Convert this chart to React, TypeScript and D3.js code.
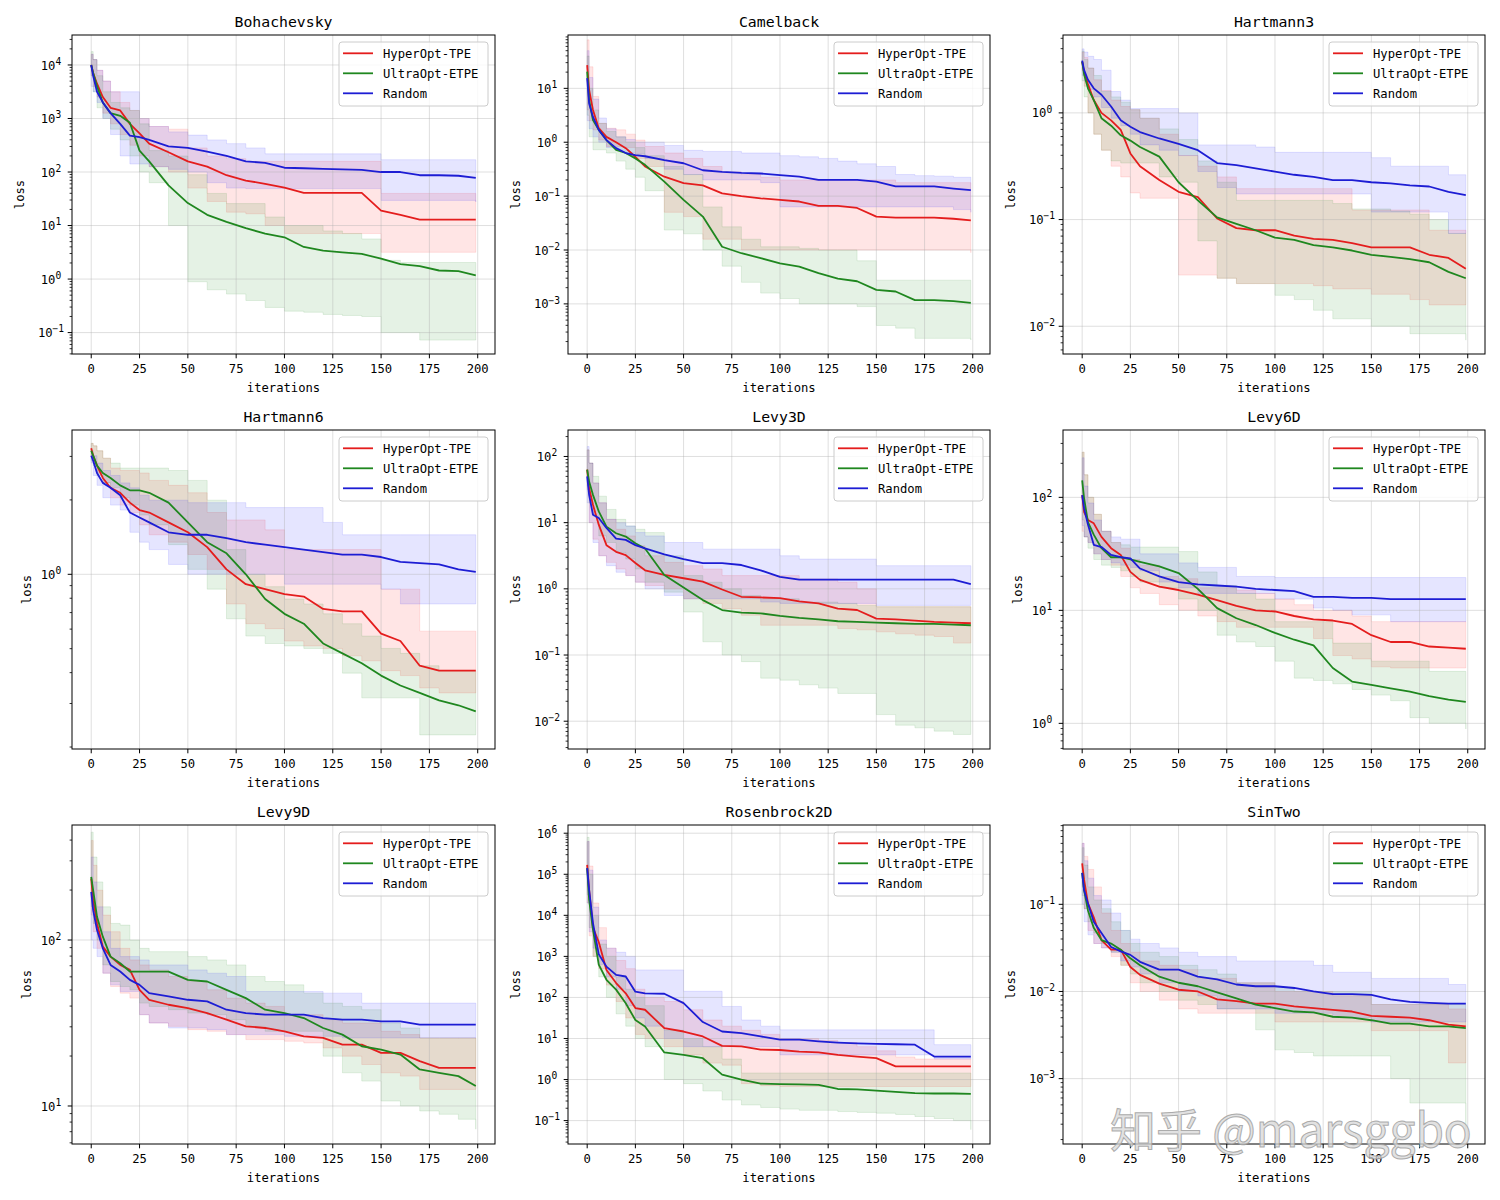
import React from "react";
import * as d3 from "d3";

const ITERS = [0, 1, 3, 6, 10, 15, 20, 25, 30, 40, 50, 60, 70, 80, 90, 100, 110, 120, 130, 140, 150, 160, 170, 180, 190, 199];
const X_TICKS = [0, 25, 50, 75, 100, 125, 150, 175, 200];
const TITLES = ["Bohachevsky", "Camelback", "Hartmann3", "Hartmann6", "Levy3D", "Levy6D", "Levy9D", "Rosenbrock2D", "SinTwo"];
const LEGEND = ["HyperOpt-TPE", "UltraOpt-ETPE", "Random"];
// y-axis limits, log10(loss)
const Y_LIMITS_LOG10 = [[-1.4, 4.56], [-3.93, 1.99], [-2.26, 0.73], [-0.707, 0.584], [-2.42, 2.4], [-0.227, 2.596], [0.771, 2.693], [-1.57, 6.2], [-3.75, -0.09]];

// ---- all values below are log10(loss): median (MED) and band (LO / HI) ----
// Bohachevsky
const BOHA_TPE_MED = [4.0, 3.85, 3.65, 3.4, 3.2, 3.15, 2.9, 2.72, 2.53, 2.37, 2.2, 2.1, 1.94, 1.84, 1.78, 1.71, 1.61, 1.61, 1.61, 1.61, 1.28, 1.2, 1.11, 1.11, 1.11, 1.11];
const BOHA_TPE_LO = [3.8, 3.6, 3.4, 3.1, 2.9, 2.7, 2.5, 2.3, 2.1, 2.0, 1.7, 1.45, 1.25, 1.22, 1.0, 0.85, 0.85, 0.85, 0.85, 0.85, 0.5, 0.5, 0.5, 0.5, 0.5, 0.5];
const BOHA_TPE_HI = [4.2, 4.1, 3.9, 3.7, 3.5, 3.3, 3.15, 3.0, 2.85, 2.8, 2.45, 2.3, 2.25, 2.2, 2.2, 2.2, 2.2, 2.2, 2.2, 2.2, 1.6, 1.6, 1.6, 1.6, 1.6, 1.6];
const BOHA_ETPE_MED = [4.0, 3.85, 3.6, 3.3, 3.1, 3.05, 2.92, 2.4, 2.2, 1.75, 1.42, 1.2, 1.07, 0.95, 0.85, 0.78, 0.6, 0.53, 0.5, 0.47, 0.38, 0.28, 0.24, 0.16, 0.15, 0.07];
const BOHA_ETPE_LO = [3.8, 3.5, 3.2, 3.0, 2.8, 2.6, 2.3, 2.0, 1.8, 1.0, -0.05, -0.2, -0.28, -0.4, -0.53, -0.6, -0.62, -0.66, -0.68, -0.7, -1.0, -1.0, -1.14, -1.14, -1.14, -1.14];
const BOHA_ETPE_HI = [4.25, 4.1, 3.8, 3.5, 3.3, 3.2, 3.15, 2.9, 2.4, 2.3, 1.95, 1.6, 1.41, 1.41, 1.16, 1.0, 1.0, 0.9, 0.85, 0.75, 0.35, 0.31, 0.31, 0.31, 0.31, 0.31];
const BOHA_RND_MED = [4.0, 3.8, 3.5, 3.3, 3.1, 2.9, 2.68, 2.65, 2.6, 2.48, 2.45, 2.38, 2.3, 2.2, 2.17, 2.08, 2.07, 2.06, 2.05, 2.04, 2.0, 2.0, 1.94, 1.94, 1.93, 1.89];
const BOHA_RND_LO = [3.6, 3.5, 3.3, 3.0, 2.7, 2.3, 2.15, 2.15, 2.1, 2.05, 2.0, 1.8, 1.7, 1.69, 1.69, 1.69, 1.69, 1.69, 1.69, 1.69, 1.47, 1.47, 1.47, 1.47, 1.47, 1.44];
const BOHA_RND_HI = [4.2, 4.1, 3.9, 3.7, 3.5, 3.5, 3.5, 3.0, 2.85, 2.75, 2.69, 2.6, 2.53, 2.45, 2.34, 2.34, 2.34, 2.34, 2.34, 2.34, 2.23, 2.23, 2.23, 2.23, 2.23, 2.23];

// Camelback
const CAMEL_TPE_MED = [1.43, 0.97, 0.6, 0.26, 0.1, 0.0, -0.11, -0.27, -0.45, -0.64, -0.76, -0.8, -0.95, -1.0, -1.04, -1.07, -1.1, -1.18, -1.18, -1.22, -1.38, -1.4, -1.4, -1.4, -1.42, -1.45];
const CAMEL_TPE_LO = [0.6, 0.4, 0.23, 0.04, -0.08, -0.08, -0.1, -0.3, -0.45, -1.3, -1.38, -1.8, -1.8, -2.0, -2.0, -2.0, -2.0, -2.0, -2.0, -2.0, -2.0, -2.0, -2.0, -2.0, -2.0, -2.05];
const CAMEL_TPE_HI = [1.9, 1.4, 0.85, 0.35, 0.26, 0.23, 0.15, 0.04, -0.08, -0.2, -0.3, -0.45, -0.55, -0.6, -0.65, -0.7, -0.7, -0.7, -0.7, -0.7, -0.7, -0.75, -0.75, -0.75, -0.75, -0.75];
const CAMEL_ETPE_MED = [1.31, 0.78, 0.41, 0.23, 0.04, -0.14, -0.2, -0.3, -0.42, -0.73, -1.07, -1.38, -1.94, -2.06, -2.15, -2.25, -2.31, -2.43, -2.53, -2.58, -2.74, -2.77, -2.93, -2.93, -2.95, -2.98];
const CAMEL_ETPE_LO = [0.5, 0.1, -0.14, -0.14, -0.2, -0.35, -0.5, -0.65, -0.9, -1.63, -1.7, -2.0, -2.3, -2.6, -2.8, -2.9, -3.0, -3.0, -3.0, -3.05, -3.4, -3.45, -3.64, -3.64, -3.64, -3.67];
const CAMEL_ETPE_HI = [1.6, 1.0, 0.6, 0.35, 0.2, 0.1, 0.0, -0.1, -0.25, -0.45, -0.6, -1.2, -1.57, -1.8, -1.94, -1.94, -1.97, -2.0, -2.0, -2.2, -2.56, -2.56, -2.56, -2.56, -2.56, -2.56];
const CAMEL_RND_MED = [1.19, 0.72, 0.47, 0.23, 0.04, -0.11, -0.2, -0.24, -0.26, -0.33, -0.39, -0.52, -0.55, -0.57, -0.58, -0.61, -0.64, -0.7, -0.7, -0.7, -0.73, -0.82, -0.82, -0.82, -0.86, -0.89];
const CAMEL_RND_LO = [0.4, 0.25, 0.1, 0.0, -0.1, -0.15, -0.2, -0.22, -0.3, -0.5, -0.6, -0.7, -0.7, -0.7, -0.75, -1.2, -1.2, -1.2, -1.2, -1.2, -1.2, -1.2, -1.2, -1.2, -1.25, -1.3];
const CAMEL_RND_HI = [1.7, 1.2, 0.8, 0.45, 0.25, 0.1, 0.05, 0.0, 0.0, -0.06, -0.15, -0.17, -0.17, -0.2, -0.2, -0.25, -0.27, -0.3, -0.35, -0.4, -0.45, -0.6, -0.62, -0.63, -0.65, -0.67];

// Hartmann3
const HART3_TPE_MED = [0.48, 0.38, 0.27, 0.12, 0.0, -0.07, -0.16, -0.38, -0.5, -0.63, -0.74, -0.79, -0.99, -1.08, -1.1, -1.1, -1.15, -1.18, -1.19, -1.22, -1.26, -1.26, -1.26, -1.33, -1.36, -1.46];
const HART3_TPE_LO = [0.4, 0.25, 0.0, -0.2, -0.35, -0.5, -0.6, -0.75, -0.8, -0.8, -1.52, -1.52, -1.55, -1.6, -1.6, -1.6, -1.6, -1.62, -1.65, -1.65, -1.7, -1.7, -1.75, -1.8, -1.8, -1.8];
const HART3_TPE_HI = [0.57, 0.52, 0.42, 0.31, 0.21, 0.12, 0.06, 0.03, -0.05, -0.2, -0.4, -0.5, -0.6, -0.71, -0.71, -0.71, -0.71, -0.71, -0.71, -0.91, -0.91, -0.91, -0.91, -1.1, -1.1, -1.13];
const HART3_ETPE_MED = [0.48, 0.36, 0.23, 0.12, -0.05, -0.12, -0.21, -0.26, -0.32, -0.41, -0.65, -0.82, -0.98, -1.04, -1.1, -1.17, -1.19, -1.24, -1.26, -1.29, -1.33, -1.35, -1.37, -1.4, -1.49, -1.55];
const HART3_ETPE_LO = [0.3, 0.15, 0.0, -0.2, -0.35, -0.45, -0.47, -0.47, -0.47, -0.6, -0.65, -1.2, -1.55, -1.6, -1.6, -1.71, -1.75, -1.85, -1.93, -1.93, -2.0, -2.0, -2.07, -2.07, -2.07, -2.13];
const HART3_ETPE_HI = [0.58, 0.5, 0.42, 0.35, 0.2, 0.15, 0.1, 0.03, -0.05, -0.15, -0.25, -0.45, -0.65, -0.82, -0.82, -0.82, -0.82, -0.82, -0.85, -0.9, -0.9, -0.92, -0.95, -1.0, -1.13, -1.13];
const HART3_RND_MED = [0.49, 0.4, 0.31, 0.23, 0.17, 0.06, -0.07, -0.13, -0.18, -0.24, -0.29, -0.35, -0.47, -0.49, -0.52, -0.55, -0.58, -0.6, -0.63, -0.63, -0.65, -0.66, -0.68, -0.69, -0.74, -0.77];
const HART3_RND_LO = [0.35, 0.3, 0.22, 0.15, 0.05, -0.05, -0.12, -0.2, -0.3, -0.35, -0.4, -0.55, -0.7, -0.76, -0.76, -0.76, -0.76, -0.76, -0.76, -0.76, -0.93, -0.93, -0.93, -0.93, -1.13, -1.13];
const HART3_RND_HI = [0.6, 0.57, 0.53, 0.5, 0.4, 0.2, 0.12, 0.04, 0.04, 0.04, 0.0, -0.3, -0.3, -0.3, -0.32, -0.37, -0.37, -0.37, -0.37, -0.37, -0.42, -0.5, -0.5, -0.5, -0.58, -0.58];

// Hartmann6
const HART6_TPE_MED = [0.51, 0.48, 0.44, 0.39, 0.35, 0.33, 0.29, 0.26, 0.25, 0.21, 0.17, 0.11, 0.02, -0.04, -0.06, -0.08, -0.09, -0.14, -0.15, -0.15, -0.24, -0.27, -0.37, -0.39, -0.39, -0.39];
const HART6_TPE_LO = [0.48, 0.45, 0.41, 0.37, 0.31, 0.28, 0.25, 0.2, 0.16, 0.13, 0.08, 0.02, -0.12, -0.2, -0.22, -0.27, -0.29, -0.3, -0.33, -0.35, -0.39, -0.41, -0.46, -0.48, -0.48, -0.48];
const HART6_TPE_HI = [0.53, 0.52, 0.5, 0.47, 0.43, 0.42, 0.42, 0.41, 0.38, 0.36, 0.33, 0.25, 0.22, 0.22, 0.18, 0.1, 0.1, 0.1, 0.1, 0.1, -0.06, -0.06, -0.23, -0.23, -0.23, -0.23];
const HART6_ETPE_MED = [0.5, 0.48, 0.44, 0.41, 0.39, 0.36, 0.34, 0.34, 0.33, 0.29, 0.21, 0.13, 0.085, 0.0, -0.1, -0.16, -0.2, -0.28, -0.32, -0.36, -0.41, -0.45, -0.48, -0.51, -0.53, -0.555];
const HART6_ETPE_LO = [0.46, 0.44, 0.4, 0.37, 0.35, 0.31, 0.28, 0.24, 0.2, 0.12, 0.02, -0.06, -0.18, -0.25, -0.28, -0.29, -0.3, -0.32, -0.4, -0.5, -0.5, -0.5, -0.65, -0.65, -0.65, -0.65];
const HART6_ETPE_HI = [0.53, 0.52, 0.5, 0.47, 0.45, 0.43, 0.43, 0.43, 0.43, 0.42, 0.38, 0.3, 0.1, 0.0, -0.05, -0.1, -0.12, -0.16, -0.2, -0.25, -0.3, -0.32, -0.37, -0.39, -0.39, -0.39];
const HART6_RND_MED = [0.48, 0.46, 0.41, 0.37, 0.35, 0.32, 0.25, 0.23, 0.21, 0.17, 0.16, 0.16, 0.146, 0.13, 0.12, 0.11, 0.1, 0.09, 0.08, 0.08, 0.07, 0.05, 0.045, 0.04, 0.02, 0.01];
const HART6_RND_LO = [0.45, 0.4, 0.36, 0.31, 0.28, 0.26, 0.17, 0.13, 0.1, 0.04, 0.0, 0.0, 0.0, 0.0, 0.0, -0.04, -0.04, -0.04, -0.04, -0.04, -0.06, -0.12, -0.12, -0.12, -0.12, -0.12];
const HART6_RND_HI = [0.5, 0.48, 0.45, 0.42, 0.4, 0.37, 0.35, 0.32, 0.3, 0.3, 0.29, 0.29, 0.29, 0.27, 0.27, 0.27, 0.27, 0.21, 0.16, 0.16, 0.16, 0.16, 0.16, 0.16, 0.16, 0.16];

// Levy3D
const LEVY3_TPE_MED = [1.8, 1.52, 1.27, 0.97, 0.66, 0.56, 0.51, 0.39, 0.28, 0.21, 0.16, 0.11, -0.01, -0.12, -0.13, -0.14, -0.19, -0.22, -0.3, -0.32, -0.45, -0.46, -0.48, -0.5, -0.51, -0.52];
const LEVY3_TPE_LO = [1.5, 1.0, 0.75, 0.5, 0.4, 0.3, 0.2, 0.1, 0.05, 0.0, -0.15, -0.22, -0.3, -0.4, -0.55, -0.55, -0.55, -0.55, -0.6, -0.62, -0.65, -0.68, -0.7, -0.72, -0.82, -0.82];
const LEVY3_TPE_HI = [2.1, 1.9, 1.6, 1.3, 1.05, 0.9, 0.8, 0.65, 0.5, 0.4, 0.35, 0.3, 0.2, 0.2, 0.2, 0.2, 0.15, 0.15, 0.1, 0.0, -0.27, -0.27, -0.27, -0.27, -0.27, -0.27];
const LEVY3_ETPE_MED = [1.8, 1.62, 1.42, 1.17, 0.94, 0.84, 0.79, 0.69, 0.61, 0.21, 0.02, -0.17, -0.32, -0.36, -0.37, -0.41, -0.44, -0.46, -0.49, -0.5, -0.51, -0.52, -0.53, -0.53, -0.54, -0.55];
const LEVY3_ETPE_LO = [1.55, 1.3, 1.1, 0.8, 0.7, 0.55, 0.45, 0.3, 0.1, -0.05, -0.35, -0.8, -1.0, -1.1, -1.35, -1.38, -1.45, -1.5, -1.58, -1.58, -1.9, -2.06, -2.1, -2.15, -2.2, -2.2];
const LEVY3_ETPE_HI = [2.1, 1.9, 1.7, 1.4, 1.2, 1.05, 0.95, 0.9, 0.85, 0.5, 0.2, 0.1, 0.0, -0.1, -0.15, -0.15, -0.2, -0.2, -0.22, -0.25, -0.27, -0.27, -0.27, -0.27, -0.27, -0.3];
const LEVY3_RND_MED = [1.7, 1.42, 1.12, 1.07, 0.92, 0.76, 0.74, 0.66, 0.61, 0.52, 0.45, 0.39, 0.39, 0.36, 0.28, 0.18, 0.14, 0.14, 0.14, 0.14, 0.14, 0.14, 0.14, 0.14, 0.14, 0.07];
const LEVY3_RND_LO = [1.3, 1.0, 0.7, 0.5, 0.35, 0.25, 0.2, 0.1, 0.0, -0.1, -0.15, -0.15, -0.15, -0.15, -0.2, -0.22, -0.22, -0.22, -0.22, -0.22, -0.25, -0.25, -0.25, -0.25, -0.25, -0.25];
const LEVY3_RND_HI = [2.15, 1.9, 1.6, 1.3, 1.05, 1.0, 0.95, 0.85, 0.8, 0.7, 0.7, 0.6, 0.6, 0.6, 0.6, 0.5, 0.45, 0.45, 0.45, 0.45, 0.35, 0.35, 0.35, 0.35, 0.35, 0.35];

// Levy6D
const LEVY6_TPE_MED = [2.02, 1.87, 1.8, 1.77, 1.65, 1.55, 1.49, 1.34, 1.27, 1.21, 1.18, 1.14, 1.09, 1.04, 1.0, 0.99, 0.95, 0.92, 0.91, 0.88, 0.78, 0.72, 0.72, 0.68, 0.67, 0.66];
const LEVY6_TPE_LO = [1.7, 1.65, 1.6, 1.5, 1.45, 1.4, 1.3, 1.2, 1.15, 1.05, 1.0, 0.95, 0.9, 0.85, 0.85, 0.85, 0.85, 0.75, 0.6, 0.57, 0.5, 0.49, 0.49, 0.49, 0.49, 0.49];
const LEVY6_TPE_HI = [2.4, 2.2, 2.0, 1.85, 1.7, 1.6, 1.55, 1.45, 1.4, 1.3, 1.28, 1.2, 1.2, 1.18, 1.15, 1.1, 1.05, 1.0, 1.0, 0.95, 0.9, 0.9, 0.9, 0.9, 0.9, 0.9];
const LEVY6_ETPE_MED = [2.15, 1.99, 1.78, 1.67, 1.55, 1.47, 1.47, 1.45, 1.43, 1.39, 1.33, 1.19, 1.02, 0.93, 0.87, 0.8, 0.74, 0.69, 0.49, 0.37, 0.34, 0.31, 0.28, 0.24, 0.21, 0.19];
const LEVY6_ETPE_LO = [1.8, 1.65, 1.55, 1.45, 1.4, 1.38, 1.35, 1.3, 1.25, 1.2, 1.1, 1.0, 0.78, 0.72, 0.68, 0.55, 0.4, 0.38, 0.35, 0.3, 0.25, 0.2, 0.05, 0.0, 0.0, -0.05];
const LEVY6_ETPE_HI = [2.4, 2.2, 2.0, 1.85, 1.7, 1.6, 1.58, 1.56, 1.56, 1.56, 1.52, 1.34, 1.22, 1.15, 1.1, 0.9, 0.9, 0.9, 0.71, 0.71, 0.55, 0.55, 0.55, 0.46, 0.46, 0.46];
const LEVY6_RND_MED = [2.02, 1.9, 1.76, 1.58, 1.56, 1.49, 1.47, 1.46, 1.37, 1.3, 1.25, 1.23, 1.22, 1.21, 1.19, 1.18, 1.17, 1.12, 1.12, 1.11, 1.11, 1.1, 1.1, 1.1, 1.1, 1.1];
const LEVY6_RND_LO = [1.75, 1.65, 1.6, 1.5, 1.45, 1.42, 1.4, 1.38, 1.35, 1.25, 1.2, 1.15, 1.15, 1.15, 1.15, 1.1, 1.1, 1.02, 1.0, 0.96, 0.96, 0.9, 0.9, 0.9, 0.9, 0.9];
const LEVY6_RND_HI = [2.35, 2.1, 1.95, 1.8, 1.7, 1.65, 1.63, 1.63, 1.5, 1.5, 1.42, 1.38, 1.38, 1.3, 1.3, 1.29, 1.29, 1.29, 1.29, 1.29, 1.29, 1.29, 1.29, 1.29, 1.29, 1.29];

// Levy9D
const LEVY9_TPE_MED = [2.37, 2.24, 2.1, 1.96, 1.9, 1.85, 1.82, 1.7, 1.64, 1.61, 1.59, 1.56, 1.52, 1.48, 1.47, 1.45, 1.42, 1.41, 1.37, 1.37, 1.32, 1.32, 1.27, 1.23, 1.23, 1.23];
const LEVY9_TPE_LO = [2.15, 2.05, 1.95, 1.8, 1.72, 1.68, 1.65, 1.55, 1.5, 1.48, 1.46, 1.45, 1.43, 1.4, 1.4, 1.39, 1.38, 1.35, 1.3, 1.25, 1.2, 1.18, 1.1, 1.1, 1.1, 1.1];
const LEVY9_TPE_HI = [2.6, 2.45, 2.3, 2.15, 2.05, 1.95, 1.88, 1.85, 1.82, 1.78, 1.75, 1.7, 1.65, 1.62, 1.6, 1.55, 1.55, 1.52, 1.5, 1.5, 1.45, 1.43, 1.41, 1.41, 1.41, 1.41];
const LEVY9_ETPE_MED = [2.38, 2.3, 2.14, 2.02, 1.9, 1.86, 1.81, 1.81, 1.81, 1.81, 1.76, 1.75, 1.7, 1.65, 1.58, 1.56, 1.53, 1.47, 1.43, 1.36, 1.34, 1.31, 1.22, 1.2, 1.18, 1.12];
const LEVY9_ETPE_LO = [2.2, 2.1, 2.0, 1.85, 1.75, 1.72, 1.7, 1.62, 1.6, 1.58, 1.56, 1.55, 1.52, 1.48, 1.45, 1.45, 1.45, 1.3, 1.2, 1.15, 1.03, 1.0, 0.97, 0.95, 0.92, 0.86];
const LEVY9_ETPE_HI = [2.65, 2.5, 2.35, 2.2, 2.1, 2.09, 2.0, 1.95, 1.93, 1.93, 1.9, 1.88, 1.85, 1.78, 1.75, 1.73, 1.68, 1.62, 1.6, 1.58, 1.5, 1.47, 1.41, 1.41, 1.41, 1.41];
const LEVY9_RND_MED = [2.29, 2.18, 2.06, 1.95, 1.85, 1.81, 1.76, 1.73, 1.68, 1.66, 1.64, 1.63, 1.58, 1.56, 1.55, 1.55, 1.55, 1.53, 1.52, 1.52, 1.51, 1.51, 1.49, 1.49, 1.49, 1.49];
const LEVY9_RND_LO = [2.0, 1.95, 1.9, 1.8, 1.73, 1.69, 1.69, 1.55, 1.5, 1.47, 1.47, 1.46, 1.43, 1.43, 1.43, 1.42, 1.42, 1.42, 1.41, 1.41, 1.41, 1.41, 1.41, 1.41, 1.41, 1.41];
const LEVY9_RND_HI = [2.5, 2.35, 2.2, 2.05, 1.95, 1.9, 1.9, 1.88, 1.85, 1.85, 1.82, 1.8, 1.78, 1.69, 1.69, 1.69, 1.69, 1.68, 1.68, 1.62, 1.62, 1.62, 1.62, 1.62, 1.62, 1.62];

// Rosenbrock2D
const ROSEN_TPE_MED = [5.23, 4.62, 3.7, 3.35, 2.67, 2.35, 2.1, 1.74, 1.7, 1.25, 1.17, 1.05, 0.82, 0.81, 0.73, 0.72, 0.68, 0.66, 0.6, 0.56, 0.52, 0.32, 0.32, 0.32, 0.32, 0.32];
const ROSEN_TPE_LO = [4.3, 3.5, 3.0, 2.7, 2.3, 1.9, 1.5, 1.1, 1.0, 0.8, 0.6, 0.4, 0.35, -0.1, -0.15, -0.17, -0.17, -0.17, -0.17, -0.17, -0.17, -0.17, -0.17, -0.17, -0.17, -0.17];
const ROSEN_TPE_HI = [5.8, 5.2, 4.3, 3.7, 3.2, 2.9, 2.7, 2.2, 2.0, 1.9, 1.7, 1.45, 1.3, 1.2, 1.1, 1.0, 1.0, 0.95, 0.9, 0.8, 0.7, 0.55, 0.5, 0.5, 0.5, 0.5];
const ROSEN_ETPE_MED = [5.15, 4.38, 3.65, 2.8, 2.43, 2.19, 1.86, 1.45, 1.29, 0.66, 0.6, 0.52, 0.12, 0.0, -0.1, -0.11, -0.12, -0.13, -0.23, -0.24, -0.27, -0.3, -0.33, -0.34, -0.34, -0.35];
const ROSEN_ETPE_LO = [4.5, 3.7, 3.0, 2.5, 2.0, 1.6, 1.3, 1.0, 0.8, 0.0, -0.1, -0.28, -0.5, -0.62, -0.68, -0.72, -0.75, -0.75, -0.78, -0.8, -0.82, -0.85, -0.9, -0.95, -1.0, -1.22];
const ROSEN_ETPE_HI = [5.9, 5.0, 4.0, 3.3, 3.0, 2.5, 2.2, 2.0, 1.8, 1.2, 1.0, 0.8, 0.5, 0.16, 0.16, 0.16, 0.16, 0.16, 0.16, 0.16, 0.16, 0.16, 0.16, 0.16, 0.16, 0.16];
const ROSEN_RND_MED = [5.15, 4.62, 3.81, 3.05, 2.75, 2.55, 2.51, 2.14, 2.1, 2.09, 1.86, 1.4, 1.17, 1.13, 1.05, 0.97, 0.97, 0.93, 0.9, 0.88, 0.87, 0.86, 0.85, 0.56, 0.56, 0.56];
const ROSEN_RND_LO = [4.3, 3.6, 3.2, 2.8, 2.5, 2.2, 1.8, 1.5, 1.3, 1.0, 0.8, 0.8, 0.8, 0.8, 0.8, 0.6, 0.6, 0.6, 0.6, 0.6, 0.6, 0.6, 0.6, 0.5, 0.5, 0.5];
const ROSEN_RND_HI = [5.8, 5.1, 4.2, 3.4, 3.2, 3.1, 3.0, 2.67, 2.67, 2.67, 2.15, 2.15, 1.78, 1.45, 1.3, 1.21, 1.21, 1.21, 1.21, 1.21, 1.21, 1.21, 1.21, 0.85, 0.85, 0.85];

// SinTwo
const SIN2_TPE_MED = [-0.53, -0.72, -0.99, -1.15, -1.41, -1.52, -1.52, -1.72, -1.81, -1.91, -1.98, -2.0, -2.09, -2.11, -2.14, -2.14, -2.17, -2.19, -2.21, -2.23, -2.28, -2.29, -2.3, -2.33, -2.38, -2.4];
const SIN2_TPE_LO = [-0.8, -1.05, -1.3, -1.45, -1.5, -1.6, -1.7, -1.9, -2.0, -2.1, -2.2, -2.25, -2.25, -2.25, -2.25, -2.35, -2.35, -2.35, -2.35, -2.35, -2.45, -2.45, -2.45, -2.45, -2.82, -2.82];
const SIN2_TPE_HI = [-0.3, -0.45, -0.6, -0.8, -1.1, -1.3, -1.45, -1.55, -1.65, -1.7, -1.75, -1.85, -1.85, -1.9, -1.9, -2.0, -2.0, -2.0, -2.05, -2.05, -2.15, -2.15, -2.15, -2.15, -2.2, -2.2];
const SIN2_ETPE_MED = [-0.64, -0.84, -1.07, -1.27, -1.41, -1.45, -1.52, -1.62, -1.7, -1.83, -1.9, -1.94, -2.01, -2.08, -2.15, -2.19, -2.23, -2.24, -2.29, -2.3, -2.33, -2.37, -2.37, -2.4, -2.4, -2.42];
const SIN2_ETPE_LO = [-0.9, -1.05, -1.2, -1.33, -1.45, -1.55, -1.7, -1.8, -1.9, -2.0, -2.1, -2.15, -2.2, -2.2, -2.44, -2.67, -2.7, -2.74, -2.74, -2.74, -2.74, -3.0, -3.28, -3.28, -3.28, -3.59];
const SIN2_ETPE_HI = [-0.35, -0.55, -0.8, -0.95, -1.05, -1.2, -1.3, -1.45, -1.55, -1.6, -1.7, -1.75, -1.8, -1.9, -1.9, -1.95, -2.0, -2.0, -2.0, -2.0, -2.15, -2.15, -2.15, -2.15, -2.15, -2.15];
const SIN2_RND_MED = [-0.64, -0.84, -0.99, -1.2, -1.33, -1.49, -1.54, -1.58, -1.66, -1.75, -1.75, -1.83, -1.86, -1.92, -1.94, -1.94, -1.96, -2.0, -2.03, -2.03, -2.04, -2.09, -2.12, -2.13, -2.14, -2.14];
const SIN2_RND_LO = [-1.0, -1.2, -1.35, -1.45, -1.5, -1.55, -1.65, -1.72, -1.8, -1.9, -2.0, -2.05, -2.2, -2.2, -2.2, -2.25, -2.25, -2.25, -2.3, -2.3, -2.35, -2.35, -2.35, -2.35, -2.35, -2.35];
const SIN2_RND_HI = [-0.3, -0.5, -0.7, -0.9, -0.95, -1.1, -1.3, -1.4, -1.45, -1.5, -1.55, -1.6, -1.6, -1.65, -1.65, -1.65, -1.65, -1.7, -1.78, -1.78, -1.85, -1.85, -1.85, -1.85, -1.92, -1.92];

// per panel: [TPE, ETPE, Random] each [median, low, high]
const PANEL_SERIES = [
  [[BOHA_TPE_MED, BOHA_TPE_LO, BOHA_TPE_HI], [BOHA_ETPE_MED, BOHA_ETPE_LO, BOHA_ETPE_HI], [BOHA_RND_MED, BOHA_RND_LO, BOHA_RND_HI]],
  [[CAMEL_TPE_MED, CAMEL_TPE_LO, CAMEL_TPE_HI], [CAMEL_ETPE_MED, CAMEL_ETPE_LO, CAMEL_ETPE_HI], [CAMEL_RND_MED, CAMEL_RND_LO, CAMEL_RND_HI]],
  [[HART3_TPE_MED, HART3_TPE_LO, HART3_TPE_HI], [HART3_ETPE_MED, HART3_ETPE_LO, HART3_ETPE_HI], [HART3_RND_MED, HART3_RND_LO, HART3_RND_HI]],
  [[HART6_TPE_MED, HART6_TPE_LO, HART6_TPE_HI], [HART6_ETPE_MED, HART6_ETPE_LO, HART6_ETPE_HI], [HART6_RND_MED, HART6_RND_LO, HART6_RND_HI]],
  [[LEVY3_TPE_MED, LEVY3_TPE_LO, LEVY3_TPE_HI], [LEVY3_ETPE_MED, LEVY3_ETPE_LO, LEVY3_ETPE_HI], [LEVY3_RND_MED, LEVY3_RND_LO, LEVY3_RND_HI]],
  [[LEVY6_TPE_MED, LEVY6_TPE_LO, LEVY6_TPE_HI], [LEVY6_ETPE_MED, LEVY6_ETPE_LO, LEVY6_ETPE_HI], [LEVY6_RND_MED, LEVY6_RND_LO, LEVY6_RND_HI]],
  [[LEVY9_TPE_MED, LEVY9_TPE_LO, LEVY9_TPE_HI], [LEVY9_ETPE_MED, LEVY9_ETPE_LO, LEVY9_ETPE_HI], [LEVY9_RND_MED, LEVY9_RND_LO, LEVY9_RND_HI]],
  [[ROSEN_TPE_MED, ROSEN_TPE_LO, ROSEN_TPE_HI], [ROSEN_ETPE_MED, ROSEN_ETPE_LO, ROSEN_ETPE_HI], [ROSEN_RND_MED, ROSEN_RND_LO, ROSEN_RND_HI]],
  [[SIN2_TPE_MED, SIN2_TPE_LO, SIN2_TPE_HI], [SIN2_ETPE_MED, SIN2_ETPE_LO, SIN2_ETPE_HI], [SIN2_RND_MED, SIN2_RND_LO, SIN2_RND_HI]],
];

// ---- styles / layout ----
const LINE_COLORS = ["#e41d1d", "#1f871f", "#1d1dd4"];
const FILL_COLORS = ["#ff0000", "#008000", "#0000ff"];
const COL_LEFT = [72, 568, 1063];
const COL_RIGHT = [495, 990, 1485];
const ROW_TOP = [35, 430, 825];
const ROW_BOTTOM = [354, 749, 1144];
const FONT = "'DejaVu Sans Mono', 'Liberation Mono', monospace";
const FS = 12.2;

function expText(n: number) {
  return n < 0 ? "\u2212" + Math.abs(n) : String(n);
}

function Panel({ index }: { index: number }) {
  const col = index % 3;
  const row = Math.floor(index / 3);
  const x0 = COL_LEFT[col], x1 = COL_RIGHT[col], y0 = ROW_TOP[row], y1 = ROW_BOTTOM[row];
  const [lg0, lg1] = Y_LIMITS_LOG10[index];
  const xs = d3.scaleLinear().domain([-9.95, 208.95]).range([x0, x1]);
  const ys = d3.scaleLog().domain([Math.pow(10, lg0), Math.pow(10, lg1)]).range([y1, y0]);

  const majors: number[] = [];
  for (let n = Math.ceil(lg0); n <= Math.floor(lg1); n++) majors.push(n);
  const minors: number[] = [];
  for (let n = Math.floor(lg0) - 1; n <= Math.ceil(lg1); n++) {
    for (let m = 2; m <= 9; m++) {
      const v = m * Math.pow(10, n);
      const lv = Math.log10(v);
      if (lv >= lg0 && lv <= lg1) minors.push(v);
    }
  }
  const hasNeg = majors.some((n) => n < 0);
  const clipId = `clip-${index}`;

  const line = d3
    .line<number>()
    .x((_, i) => xs(ITERS[i]))
    .y((v) => ys(Math.pow(10, v)));

  const series = PANEL_SERIES[index];
  const legendW = 149, legendH = 64;
  const lx = x1 - 7 - legendW, ly = y0 + 7;

  return (
    <g>
      <defs>
        <clipPath id={clipId}>
          <rect x={x0} y={y0} width={x1 - x0} height={y1 - y0} />
        </clipPath>
      </defs>
      <g clipPath={`url(#${clipId})`}>
        {series.map((s, k) => {
          const [, lo, hi] = s;
          const area = d3
            .area<number>()
            .x((_, i) => xs(ITERS[i]))
            .y0((_, i) => ys(Math.pow(10, lo[i])))
            .y1((_, i) => ys(Math.pow(10, hi[i])))
            .curve(d3.curveStepAfter);
          return (
            <path key={`b${k}`} d={area(lo) || ""} fill={FILL_COLORS[k]} fillOpacity={0.1} stroke={FILL_COLORS[k]} strokeOpacity={0.1} strokeWidth={1} />
          );
        })}
        {/* grid */}
        {X_TICKS.map((t) => (
          <line key={`gx${t}`} x1={xs(t)} x2={xs(t)} y1={y0} y2={y1} stroke="#b0b0b0" strokeOpacity={0.5} strokeWidth={0.8} />
        ))}
        {majors.map((n) => (
          <line key={`gy${n}`} x1={x0} x2={x1} y1={ys(Math.pow(10, n))} y2={ys(Math.pow(10, n))} stroke="#b0b0b0" strokeOpacity={0.5} strokeWidth={0.8} />
        ))}
        {series.map((s, k) => (
          <path key={`m${k}`} d={line(s[0]) || ""} fill="none" stroke={LINE_COLORS[k]} strokeWidth={1.8} strokeLinejoin="round" />
        ))}
      </g>
      {/* spines */}
      <rect x={x0} y={y0} width={x1 - x0} height={y1 - y0} fill="none" stroke="#000" strokeWidth={1} />
      {/* x ticks */}
      {X_TICKS.map((t) => (
        <g key={`xt${t}`}>
          <line x1={xs(t)} x2={xs(t)} y1={y1} y2={y1 + 4.3} stroke="#000" strokeWidth={1} />
          <text x={xs(t)} y={y1 + 19} textAnchor="middle" fontFamily={FONT} fontSize={FS} fill="#000">
            {t}
          </text>
        </g>
      ))}
      {/* y ticks */}
      {minors.map((v, i) => (
        <line key={`ym${i}`} x1={x0 - 2.4} x2={x0} y1={ys(v)} y2={ys(v)} stroke="#000" strokeWidth={0.8} />
      ))}
      {majors.map((n) => {
        const y = ys(Math.pow(10, n));
        return (
          <g key={`yt${n}`}>
            <line x1={x0 - 4.3} x2={x0} y1={y} y2={y} stroke="#000" strokeWidth={1} />
            <text x={x0 - 21} y={y + 4.6} textAnchor="middle" fontFamily={FONT} fontSize={FS} fill="#000">
              10
              <tspan fontSize={9.6} dy={-4.9}>
                {expText(n)}
              </tspan>
            </text>
          </g>
        );
      })}
      {/* labels */}
      <text x={(x0 + x1) / 2} y={y0 - 8} textAnchor="middle" fontFamily={FONT} fontSize={14.8} fill="#000">
        {TITLES[index]}
      </text>
      <text x={(x0 + x1) / 2} y={y1 + 37.5} textAnchor="middle" fontFamily={FONT} fontSize={FS} fill="#000">
        iterations
      </text>
      <text
        transform={`translate(${x0 - (hasNeg ? 52.5 : 45)},${(y0 + y1) / 2}) rotate(-90)`}
        dy="0.35em"
        textAnchor="middle"
        fontFamily={FONT}
        fontSize={FS}
        fill="#000"
      >
        loss
      </text>
      {/* legend */}
      <rect x={lx} y={ly} width={legendW} height={legendH} rx={3} fill="#fff" fillOpacity={0.8} stroke="#cccccc" strokeWidth={1} />
      {LEGEND.map((name, k) => {
        const yy = ly + 11.3 + k * 20;
        return (
          <g key={`lg${k}`}>
            <line x1={lx + 4} x2={lx + 34} y1={yy} y2={yy} stroke={LINE_COLORS[k]} strokeWidth={1.8} />
            <text x={lx + 44} y={yy + 4.3} fontFamily={FONT} fontSize={FS} fill="#000">
              {name}
            </text>
          </g>
        );
      })}
    </g>
  );
}

export default function App() {
  return (
    <svg
      width={1500}
      height={1200}
      viewBox="0 0 1500 1200"
      xmlns="http://www.w3.org/2000/svg"
      style={{ position: "absolute", left: 0, top: 0, display: "block" }}
    >
      <rect x={0} y={0} width={1500} height={1200} fill="#ffffff" />
      {TITLES.map((_, i) => (
        <Panel key={i} index={i} />
      ))}
      <text
        x={1110}
        y={1147}
        fontFamily="'Noto Sans CJK SC', 'Noto Sans', sans-serif"
        fontSize={46}
        fill="#d8d8d8"
        fillOpacity={0.75}
        stroke="#9a9a9a"
        strokeOpacity={0.8}
        strokeWidth={1}
      >
        知乎 @marsggbo
      </text>
    </svg>
  );
}
